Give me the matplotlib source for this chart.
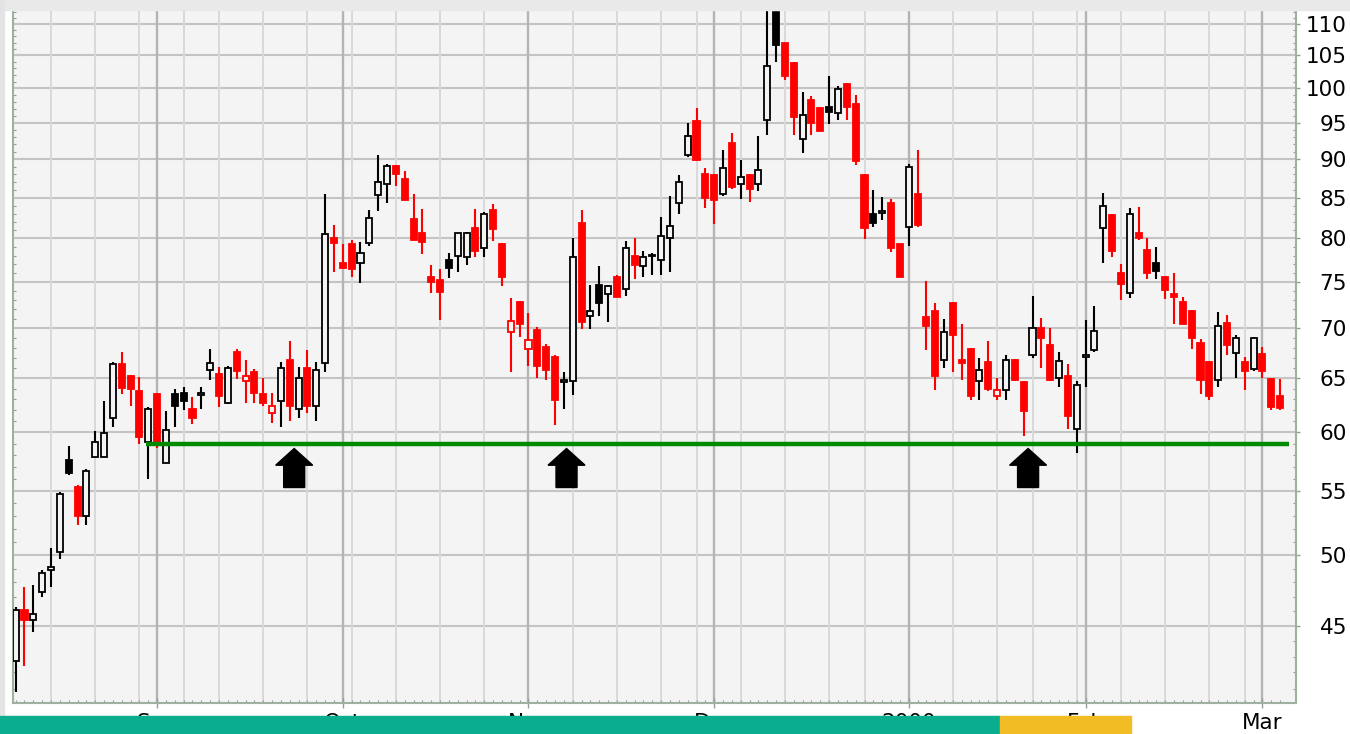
import numpy as np
import pandas as pd
import matplotlib
matplotlib.use("Agg")
import matplotlib.pyplot as plt
from matplotlib import transforms
from matplotlib.patches import Polygon, Rectangle
from matplotlib.ticker import FixedLocator, FixedFormatter, NullFormatter

# trading days, Aug 1999 - Mar 2000
holidays = ['1999-09-06', '1999-11-25', '1999-12-24', '2000-01-17', '2000-02-21']
days = pd.bdate_range('1999-08-10', '2000-03-03')
days = days[~days.isin(pd.to_datetime(holidays))]

opens = [42.7, 46.1, 45.4, 47.3, 48.9, 50.2, 57.6, 55.3, 53.0, 57.8, 57.8, 61.3,
         66.4, 65.2, 63.8, 59.1, 63.5, 57.3, 63.5, 63.6, 62.1, 63.4, 65.8, 65.4,
         62.7, 67.6, 64.7, 65.6, 63.5, 61.7, 62.8, 66.8, 62.1, 66.0, 62.4, 66.5,
         80.0, 77.1, 79.4, 77.1, 79.5, 85.3, 86.7, 89.1, 87.4, 82.4, 80.6, 75.6,
         75.2, 77.5, 78.0, 77.8, 81.2, 78.9, 83.4, 79.4, 69.6, 72.8, 67.9, 69.8,
         68.1, 67.1, 64.6, 64.7, 81.9, 71.3, 74.7, 73.7, 75.5, 74.2, 78.0, 76.8,
         77.9, 77.5, 80.1, 84.3, 90.5, 95.3, 88.1, 87.9, 85.5, 92.2, 86.8, 87.9,
         86.8, 95.4, 112.0, 106.9, 103.8, 92.7, 98.3, 97.1, 97.3, 96.4, 100.7, 97.7,
         87.9, 83.0, 83.1, 84.3, 79.3, 81.4, 85.4, 71.2, 71.8, 66.8, 72.7, 66.8,
         67.9, 64.7, 66.6, 63.3, 63.9, 66.8, 64.6, 67.3, 70.0, 68.3, 65.0, 65.2,
         60.3, 67.1, 67.8, 81.2, 82.8, 76.0, 73.8, 80.6, 78.7, 77.1, 75.6, 73.7,
         72.8, 71.8, 68.5, 66.6, 64.8, 70.6, 67.5, 66.6, 65.9, 67.4, 64.9, 63.3]
highs = [46.3, 47.7, 47.8, 48.9, 50.5, 54.9, 58.8, 55.5, 56.8, 60.1, 62.8, 66.6,
         67.6, 65.3, 65.1, 62.3, 63.6, 61.9, 64.0, 64.2, 63.2, 64.2, 67.9, 66.1,
         66.2, 67.9, 66.8, 65.9, 65.0, 63.6, 66.6, 68.7, 66.1, 67.8, 66.6, 85.4,
         81.6, 79.4, 79.8, 79.6, 83.5, 90.5, 89.4, 89.2, 88.4, 85.4, 83.6, 76.9,
         76.4, 78.3, 80.7, 80.8, 83.6, 83.2, 84.2, 79.5, 73.2, 72.9, 71.6, 70.1,
         68.4, 67.3, 65.6, 80.0, 83.4, 74.7, 76.8, 74.7, 75.8, 79.7, 80.0, 78.5,
         78.3, 82.6, 85.2, 87.9, 94.9, 97.1, 88.8, 88.1, 91.3, 93.5, 89.9, 88.0,
         93.1, 113.5, 114.0, 107.0, 104.0, 99.5, 98.8, 97.3, 101.8, 100.4, 100.8, 99.0,
         88.1, 86.0, 85.1, 84.8, 79.4, 89.4, 91.3, 75.1, 72.7, 71.0, 72.8, 70.5,
         68.0, 67.0, 68.7, 65.0, 67.3, 66.9, 64.7, 73.5, 71.1, 70.0, 67.6, 66.4,
         64.7, 70.9, 72.4, 85.6, 82.9, 77.0, 83.7, 83.8, 80.0, 79.0, 75.7, 76.0,
         73.3, 71.9, 68.9, 66.7, 71.7, 71.4, 69.3, 67.1, 69.1, 68.1, 65.0, 64.9]
lows = [40.8, 42.4, 44.6, 47.0, 47.7, 49.7, 56.3, 52.3, 52.3, 57.8, 57.8, 60.5,
        63.5, 62.4, 59.0, 56.0, 58.6, 57.3, 60.5, 62.0, 60.7, 62.1, 64.8, 62.3,
        62.6, 64.9, 62.7, 62.7, 62.4, 60.8, 60.5, 61.0, 61.3, 61.7, 61.0, 65.6,
        76.1, 76.5, 75.6, 74.9, 79.1, 83.3, 84.3, 86.5, 84.7, 79.8, 78.2, 73.8,
        70.9, 75.4, 76.1, 76.9, 77.8, 77.8, 79.7, 74.5, 65.6, 69.1, 66.2, 65.0,
        64.8, 60.6, 62.1, 63.4, 69.9, 69.9, 71.3, 70.7, 73.3, 73.5, 75.3, 75.6,
        75.8, 75.8, 76.1, 83.0, 90.3, 89.7, 83.7, 81.7, 85.2, 86.1, 84.8, 84.4,
        85.8, 93.3, 104.0, 101.2, 93.3, 90.8, 93.3, 93.8, 94.8, 95.4, 95.4, 89.2,
        79.9, 81.4, 82.2, 78.4, 75.5, 79.1, 81.4, 67.8, 63.9, 66.0, 65.6, 64.8,
        62.9, 62.9, 63.8, 62.9, 62.9, 64.7, 59.7, 67.0, 66.0, 64.7, 64.2, 60.3,
        58.2, 64.2, 67.6, 77.1, 77.8, 73.0, 73.2, 79.8, 75.3, 75.3, 73.1, 70.5,
        70.5, 67.9, 63.5, 62.9, 64.2, 67.3, 65.0, 63.9, 65.7, 65.0, 62.0, 62.0]
closes = [46.1, 45.4, 45.8, 48.7, 49.1, 54.7, 56.5, 53.0, 56.6, 59.1, 59.9, 66.4,
          64.1, 64.0, 59.6, 62.1, 59.0, 60.2, 62.4, 62.8, 61.3, 63.6, 66.5, 63.3,
          66.0, 65.7, 65.2, 63.6, 62.7, 62.4, 66.0, 62.4, 65.0, 62.4, 65.8, 80.5,
          79.5, 76.6, 76.4, 78.3, 82.5, 87.0, 89.1, 88.1, 84.7, 79.8, 79.6, 75.0,
          73.9, 76.6, 80.6, 80.7, 78.5, 82.9, 81.1, 75.6, 70.8, 70.5, 68.8, 66.2,
          65.8, 62.9, 64.8, 77.8, 70.7, 71.8, 72.7, 74.6, 73.3, 78.9, 76.9, 77.8,
          78.1, 80.3, 81.5, 87.0, 93.1, 89.9, 84.9, 84.7, 88.8, 86.3, 87.6, 86.1,
          88.5, 103.3, 106.6, 101.9, 95.8, 96.1, 94.9, 93.9, 96.6, 99.9, 97.2, 89.7,
          81.2, 81.9, 83.3, 78.9, 75.6, 89.0, 81.6, 70.2, 65.2, 69.6, 69.3, 66.5,
          63.3, 65.8, 64.0, 63.9, 66.8, 64.8, 61.9, 70.0, 69.0, 64.8, 66.7, 61.5,
          64.4, 67.3, 69.7, 84.0, 78.5, 74.8, 83.0, 80.0, 76.0, 76.2, 74.1, 73.3,
          70.5, 69.0, 64.8, 63.3, 70.3, 68.3, 69.0, 65.7, 69.0, 65.7, 62.3, 62.2]
prev_close = 42.0

support = 59.0
arrow_x = [31.5, 62.3, 114.5]
price_ticks = [45, 50, 55, 60, 65, 70, 75, 80, 85, 90, 95, 100, 105, 110]
month_labels = ['Sep', 'Oct', 'Nov', 'Dec', '2000', 'Feb', 'Mar']

o = np.array(opens)
h = np.array(highs)
l = np.array(lows)
c = np.array(closes)
x = np.arange(len(days))
pc = np.concatenate([[prev_close], c[:-1]])

bg = '#f4f4f4'
line_col = np.where(c >= pc, 'black', '#ff0000')
face_col = np.where(c < o, line_col, bg)

# month / week starts
month_pos = x[1:][days.month[1:] != days.month[:-1]]
wk = days.isocalendar().week.values
week_pos = x[1:][wk[1:] != wk[:-1]]

fig = plt.figure(figsize=(13.5, 7.34), dpi=100, facecolor='white')
ax = fig.add_axes([13 / 1350, 1 - 702.7 / 734, (1296 - 13) / 1350, (702.7 - 9.5) / 734])
ax.set_facecolor(bg)
ax.set_yscale('log')

for p in price_ticks:
    ax.axhline(p, color='#c4c4c4', lw=1.5, zorder=1)
for p in week_pos:
    ax.axvline(p, color='#d9d9d9', lw=1.4, zorder=1)
for p in month_pos:
    ax.axvline(p, color='#b4b4b4', lw=1.7, zorder=1)

ax.vlines(x, l, h, colors=line_col, lw=1.5, zorder=3)
ax.bar(x, np.maximum(np.abs(c - o), 0.15), bottom=np.minimum(o, c), width=0.68,
       color=face_col, edgecolor=line_col, linewidth=1.3, zorder=4)

ax.hlines(support, 14.75, 144.0, color='#008a00', lw=3.2, zorder=5)

# up arrows under the support line
shape = [(0, -0.05), (0.185, -0.217), (0.105, -0.217), (0.105, -0.44),
         (-0.105, -0.44), (-0.105, -0.217), (-0.185, -0.217)]
for xa in arrow_x:
    tr = fig.dpi_scale_trans + transforms.ScaledTranslation(xa, support, ax.transData)
    ax.add_artist(Polygon(shape, closed=True, transform=tr, color='black', zorder=6))

ax.set_xlim(-0.3, 144.8)
ax.set_ylim(40.15, 112.4)

# y axis on the right
ax.yaxis.set_major_locator(FixedLocator(price_ticks))
ax.yaxis.set_major_formatter(FixedFormatter([str(p) for p in price_ticks]))
minor_p = [p for p in range(41, 113) if p % 5 != 0]
ax.yaxis.set_minor_locator(FixedLocator(minor_p))
ax.yaxis.set_minor_formatter(NullFormatter())
ax.tick_params(axis='y', which='major', left=False, right=True, labelleft=False,
               labelright=True, direction='out', length=3, width=1, color='#8fa08f',
               labelsize=15.5, pad=33.7)
ax.tick_params(axis='y', which='minor', left=True, right=True, direction='in',
               length=2, width=0.8, color='#8fa08f')
for lbl in ax.get_yticklabels():
    lbl.set_horizontalalignment('right')

ax.xaxis.set_major_locator(FixedLocator(month_pos))
ax.xaxis.set_major_formatter(FixedFormatter(month_labels))
ax.xaxis.set_minor_locator(FixedLocator(x))
ax.tick_params(axis='x', which='major', direction='inout', length=7, width=1,
               color='#8fa08f', labelsize=15.5, pad=3.8)
ax.tick_params(axis='x', which='minor', direction='in', length=2, width=0.8,
               color='#8fa08f')

for s in ['left', 'right', 'bottom']:
    ax.spines[s].set_color('#9fb0a0')
    ax.spines[s].set_linewidth(1.5)
ax.spines['top'].set_visible(False)

# page furniture around the chart
fig.add_artist(Rectangle((0, 1 - 9.5 / 734), 1, 9.5 / 734, transform=fig.transFigure,
                         color='#e9e9e9', zorder=10))
fig.add_artist(Rectangle((0, 0), 4 / 1350, 1, transform=fig.transFigure,
                         color='#e4e4e4', zorder=10))
fig.add_artist(Rectangle((0, 0), 1000 / 1350, 18 / 734, transform=fig.transFigure,
                         color='#0aae8f', zorder=10))
fig.add_artist(Rectangle((1000 / 1350, 0), 131 / 1350, 18 / 734, transform=fig.transFigure,
                         color='#f2bc25', zorder=10))

fig.savefig('out.png', dpi=100, facecolor='white')
